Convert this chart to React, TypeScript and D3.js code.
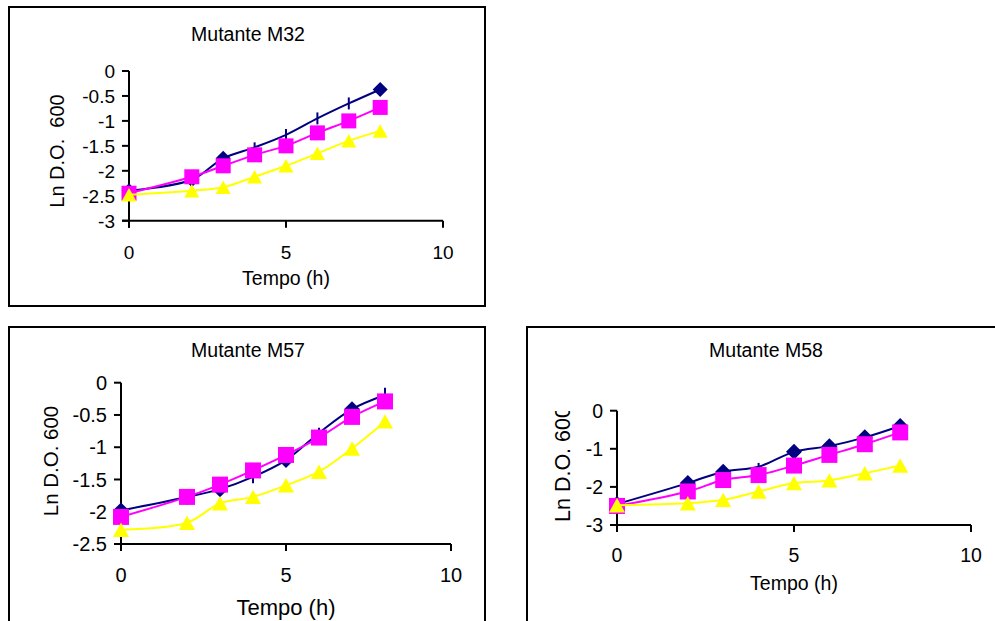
import React from 'react';
import * as d3 from 'd3';

const width = 995;
const height = 621;

const hours = [0, 2, 3, 4, 5, 6, 7, 8];

// Mutante M32
const m32Blue = [-2.4, -2.18, -1.75, -1.53, -1.28, -0.95, -0.65, -0.37];
const m32BlueErr = [null, null, null, 0.1, 0.12, 0.12, 0.12, null];
const m32Pink = [-2.45, -2.12, -1.9, -1.68, -1.5, -1.24, -1.0, -0.73];
const m32Yellow = [-2.48, -2.4, -2.33, -2.12, -1.9, -1.65, -1.4, -1.2];

// Mutante M57
const m57Blue = [-1.98, -1.77, -1.65, -1.46, -1.2, -0.78, -0.41, -0.19];
const m57BlueErr = [null, null, null, 0.1, null, 0.08, null, 0.11];
const m57Pink = [-2.08, -1.77, -1.58, -1.36, -1.12, -0.85, -0.53, -0.29];
const m57Yellow = [-2.28, -2.17, -1.87, -1.77, -1.59, -1.38, -1.02, -0.6];

// Mutante M58
const m58Blue = [-2.45, -1.9, -1.6, -1.47, -1.08, -0.93, -0.7, -0.4];
const m58BlueErr = [null, null, null, 0.1, null, null, null, null];
const m58Pink = [-2.5, -2.12, -1.82, -1.69, -1.44, -1.16, -0.88, -0.57];
const m58Yellow = [-2.48, -2.43, -2.34, -2.12, -1.9, -1.83, -1.64, -1.44];

const xTicks = [0, 5, 10];
const yTicks32 = [0, -0.5, -1, -1.5, -2, -2.5, -3];
const yTicks57 = [0, -0.5, -1, -1.5, -2, -2.5];
const yTicks58 = [0, -1, -2, -3];

const NAVY = '#000080';
const PINK = '#FF00FF';
const YELLOW = '#FFFF00';
const FONT = 'Arial, "Liberation Sans", sans-serif';

type PanelProps = {
  id: string;
  title: string;
  frame: [number, number, number, number];
  titleX: number;
  titleY: number;
  xRange: [number, number];
  yRange: [number, number];
  yDomain: [number, number];
  yTicks: number[];
  blue: number[];
  blueErr: (number | null)[];
  pink: number[];
  yellow: number[];
  yLabel: string;
  yLabelX: number;
  yLabelY: number;
  yLabelClip?: number;
  tickFont: number;
  titleFont: number;
  axisFont: number;
  yLabelFont: number;
  xTickDy: number;
  xTitleY: number;
  marker: number;
};

function Panel(p: PanelProps) {
  const x = d3.scaleLinear().domain([0, 10]).range(p.xRange);
  const y = d3.scaleLinear().domain(p.yDomain).range(p.yRange);
  const line = d3.line<number>()
    .x((_, i) => x(hours[i]))
    .y((d) => y(d))
    .curve(d3.curveCatmullRom.alpha(0.5));
  const [fx, fy, fw, fh] = p.frame;
  const s = p.marker;
  const yBottom = p.yRange[0];
  const x0 = p.xRange[0];
  const fmt = (v: number) => (v === 0 ? '0' : String(v));
  const clipped = p.yLabelClip !== undefined;
  return (
    <g fontFamily={FONT}>
      <rect x={fx} y={fy} width={fw} height={fh} fill="white" stroke="black" strokeWidth={2} />
      <text x={p.titleX} y={p.titleY} textAnchor="middle" fontSize={p.titleFont}>{p.title}</text>

      {/* axes */}
      <line x1={x0} x2={x0} y1={p.yRange[1]} y2={yBottom + 7} stroke="black" strokeWidth={2} />
      <line x1={x0 - 7} x2={p.xRange[1]} y1={yBottom} y2={yBottom} stroke="black" strokeWidth={2} />
      {p.yTicks.map((t) => (
        <g key={t}>
          <line x1={x0 - 7} x2={x0} y1={y(t)} y2={y(t)} stroke="black" strokeWidth={2} />
          <text x={x0 - 14} y={y(t)} dy="0.36em" textAnchor="end" fontSize={p.tickFont}>{fmt(t)}</text>
        </g>
      ))}
      {xTicks.map((t) => (
        <g key={t}>
          <line x1={x(t)} x2={x(t)} y1={yBottom} y2={yBottom + 7} stroke="black" strokeWidth={2} />
          <text x={x(t)} y={yBottom + p.xTickDy} textAnchor="middle" fontSize={p.tickFont}>{t}</text>
        </g>
      ))}
      <text x={x(5)} y={p.xTitleY} textAnchor="middle" fontSize={p.axisFont}>Tempo (h)</text>

      {clipped && (
        <clipPath id={`clip-${p.id}`}>
          <rect x={p.yLabelX - 40} y={p.yLabelClip} width={80} height={300} />
        </clipPath>
      )}
      <g clipPath={clipped ? `url(#clip-${p.id})` : undefined}>
        <text
          transform={`translate(${p.yLabelX}, ${p.yLabelY}) rotate(-90)`}
          textAnchor={clipped ? 'start' : 'middle'}
          fontSize={p.yLabelFont}
          style={{whiteSpace: 'pre'}}
        >{p.yLabel}</text>
      </g>

      {/* blue series */}
      <path d={line(p.blue) ?? ''} fill="none" stroke={NAVY} strokeWidth={2} />
      {p.blue.map((v, i) => {
        const e = p.blueErr[i];
        const cx = x(hours[i]);
        const cy = y(v);
        if (e !== null) {
          return <line key={i} x1={cx} x2={cx} y1={y(v + e)} y2={y(v - e)} stroke={NAVY} strokeWidth={2} />;
        }
        const r = s / 2;
        return <path key={i} d={`M${cx},${cy - r}L${cx + r},${cy}L${cx},${cy + r}L${cx - r},${cy}Z`} fill={NAVY} />;
      })}

      {/* pink series */}
      <path d={line(p.pink) ?? ''} fill="none" stroke={PINK} strokeWidth={2} />
      {p.pink.map((v, i) => (
        <rect key={i} x={x(hours[i]) - s / 2} y={y(v) - s / 2} width={s} height={s} fill={PINK} />
      ))}

      {/* yellow series */}
      <path d={line(p.yellow) ?? ''} fill="none" stroke={YELLOW} strokeWidth={2} />
      {p.yellow.map((v, i) => {
        const cx = x(hours[i]);
        const cy = y(v);
        const h = s * 0.9;
        return <path key={i} d={`M${cx},${cy - h / 2}L${cx + s / 2},${cy + h / 2}L${cx - s / 2},${cy + h / 2}Z`} fill={YELLOW} />;
      })}
    </g>
  );
}

export default function App() {
  return (
    <svg width={width} height={height} style={{position: 'absolute', left: 0, top: 0, background: 'white'}}>
      <Panel
        id="m32" title="Mutante M32" frame={[9, 7, 476, 299]} titleX={248} titleY={41}
        xRange={[129, 443]} yRange={[220.7, 71]} yDomain={[-3, 0]} yTicks={yTicks32}
        blue={m32Blue} blueErr={m32BlueErr} pink={m32Pink} yellow={m32Yellow}
        yLabel={'Ln D.O.  600'} yLabelX={64} yLabelY={151}
        tickFont={19} titleFont={19.5} axisFont={19.5} yLabelFont={20}
        xTickDy={38} xTitleY={285} marker={15}
      />
      <Panel
        id="m57" title="Mutante M57" frame={[9, 327, 476, 310]} titleX={248} titleY={357}
        xRange={[121, 451]} yRange={[544, 382.7]} yDomain={[-2.5, 0]} yTicks={yTicks57}
        blue={m57Blue} blueErr={m57BlueErr} pink={m57Pink} yellow={m57Yellow}
        yLabel="Ln D.O. 600" yLabelX={58} yLabelY={461}
        tickFont={20} titleFont={19.5} axisFont={22} yLabelFont={20.5}
        xTickDy={38} xTitleY={615} marker={16}
      />
      <Panel
        id="m58" title="Mutante M58" frame={[527, 327, 480, 310]} titleX={766} titleY={357}
        xRange={[617, 971]} yRange={[525, 410.7]} yDomain={[-3, 0]} yTicks={yTicks58}
        blue={m58Blue} blueErr={m58BlueErr} pink={m58Pink} yellow={m58Yellow}
        yLabel="Ln D.O. 600" yLabelX={570} yLabelY={522} yLabelClip={411}
        tickFont={19.5} titleFont={19.5} axisFont={19.5} yLabelFont={21.5}
        xTickDy={37} xTitleY={590} marker={16}
      />
    </svg>
  );
}
